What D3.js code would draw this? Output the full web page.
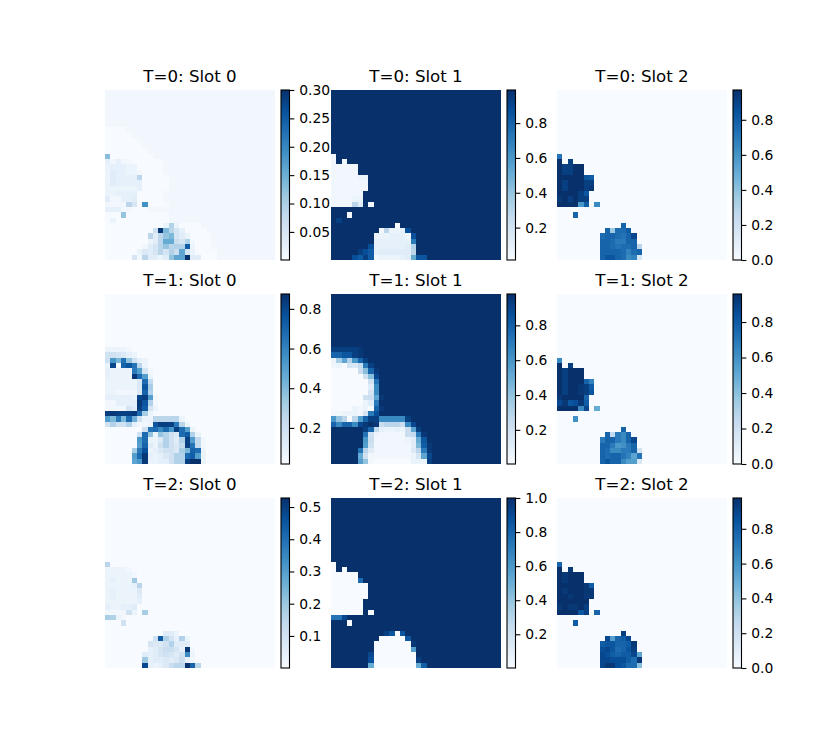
<!DOCTYPE html>
<html><head><meta charset="utf-8">
<script src="https://cdn.jsdelivr.net/npm/d3@7"></script>
<style>html,body{margin:0;background:#fff}svg{display:block}text{font-family:"DejaVu Sans",sans-serif;fill:#000}</style>
</head><body><svg id="c" width="825" height="750"></svg>
<script>
// Cell levels, one base-36 digit per cell (0 = vmin, z = vmax).
// Each row lists the cells from the left; cells past its end hold the panel's background level.
const t0s0Rows = ["","","","","","","","0000","00000","000000","0000000","00000000","f00000000",
"31311000000","23332200000","24332210000","243333a00000","243333300000","222222300000","22333300000","41133400000",
"1111a60m0000","33311000","000e00000000","020000000000","000000000002b20000","0000000007yga630000","00000000a4aeg6420000",
"0000000024aii86b1000","0000000146aeabbt2000","0000002546a6b8j620000","0000061a4424ejjz44000"];
const t0s1Rows = ["","","","","","","","","","","","","1","1z1","11111","11111","1111122","1111111","1111111","111111","111122",
"1111a4z1","","zzz1","zx","zzzzzzzzzzzz0","zzzzzzzzz1a223v","zzzzzzzz2223332v","zzzzzzzz3333333p","zzzzzzzv3333334b",
"zzzzzxvt3444444a","zzzzvtxt1222234iuu"];
const t0s2Rows = ["","","","","","","","","","","","","q","z0x","zxxzz","zxxzz","zzzzzut","zxzzzxx","zxzzzxy","zzzzxu","yzxzxx",
"zzzzlt0n","","000s","","000000000000s","000000000sdrrt","00000000rssrqsw","00000000ssrppss","00000000ssrqrrsa",
"00000000ssssrors","00000000suusrno6"];
const t1s0Rows = ["","","","","","","","","","","22221","776532","7lgqe732","2w0suqa2","32222pk61","32222yrk2","2222225r9","2222225uc","2211115sb",
"333332wxk1","113333yub1","111164xt62","xyxxxyrc2","kgpgrh722aaaaa2","7b77b3112uxxxpa2","00000007qrnrlxrk2","0000007re2eb75rtb2",
"000000lr225b74bxk91","000000ks427b759xq91","00000cpv235775cgsr2","00000kry32357bbrtk2","00000jly22337bbxzz2"];
const t1s1Rows = ["","","","","","","","","","","xxxxxy","ssuuxy","2cjblsx","120659px","000008fsy","0000007fw","00000007q","00000004n","00000006n",
"00000078jy","00000024p","00002120sy","1122216pv","lea0aksxxnnnnnx","snssnwyzy8aaa8nw","zzzzzzxs9322328jx","zzzzzzq721111189py",
"zzzzzzl811111124iu","zzzzzzk711111114gty","zzzzzqa411111115apy","zzzzzi71111111126jw","zzzzzke10000000222x"];
const t1s2Rows = ["","","","","","","","","","","","","n","z0x","zxzzz","zxzzz","zxzzzso","zxzzyxt","zxzzyxu","yzzzzs","wyuvyt","zzzznw0i","","000m","",
"000000000000s","000000000s9pns","00000000psspnsw","00000000ssplmps","00000000srnnpps7","00000000srssqojq","00000000sussnkk5"];
const t2s0Rows = ["","","","","","","","","","","","","a","22221","222221","23222d","222223a","2322225","2322224","2222223","322334",
"1111720c","cb21","0007","","00000000000442","0000000007tb63b2","000000006557b444","000000003468863y1","000000043467647n2","0000000d344545831","0000000w32358aazsa"];
const t2s1Rows = ["","","","","","","","","","","","","0","0z0","00000","00000r","0000000","0000000","0000000","000000","000000",
"000000z0","qqw","zzz0","","zzzzzzzzzzxu0u","zzzzzzzzz00000u","zzzzzzzz0000000y","zzzzzzzz0000000k","zzzzzzzw00000000z","zzzzzzzv00000000x","zzzzzzzi00000000it"];
const t2s2Rows = ["","","","","","","","","","","","","s","z0y","zyzzz","zyzzz","zzzzzyt","zyzzzyy","zzyzzyy","zzzzzz","yzyyzx","zzzzux0s","","000t","",
"000000000000x","000000000wkstw","00000000tuussty","00000000vwursux","00000000wvtsttwj","00000000wwvvvtry","00000000wyyvurrf"];

const titles = ["T=0: Slot 0","T=0: Slot 1","T=0: Slot 2","T=1: Slot 0","T=1: Slot 1","T=1: Slot 2","T=2: Slot 0","T=2: Slot 1","T=2: Slot 2"];
const rowSets = [t0s0Rows,t0s1Rows,t0s2Rows,t1s0Rows,t1s1Rows,t1s2Rows,t2s0Rows,t2s1Rows,t2s2Rows];
const backgroundLevels = ["1","z","0","0","z","0","0","z","0"];
const vMins = [0.0005,0.014,0,0.018,0.004,0,0.0005,0.002,0];
const vMaxs = [0.30,0.99,0.97,0.875,0.98,0.958,0.528,1.0,0.977];
const tickLists = [[0.05,0.10,0.15,0.20,0.25,0.30],[0.2,0.4,0.6,0.8],[0,0.2,0.4,0.6,0.8],[0.2,0.4,0.6,0.8],[0.2,0.4,0.6,0.8],[0,0.2,0.4,0.6,0.8],[0.1,0.2,0.3,0.4,0.5],[0.2,0.4,0.6,0.8,1.0],[0,0.2,0.4,0.6,0.8]];
const tickFormats = [".2f",".1f",".1f",".1f",".1f",".1f",".1f",".1f",".1f"];
const blues = ["#f7fbff","#deebf7","#c6dbef","#9ecae1","#6baed6","#4292c6","#2171b5","#08519c","#08306b"];

const GRID = 32, SIZE = 170;
const colLefts = [105,331,557], rowTops = [90,294,498];
const cbGap = 6, cbWidth = 8.5;
const svg = d3.select("#c");
const defs = svg.append("defs");
const grad = defs.append("linearGradient").attr("id","blues").attr("x1",0).attr("x2",0).attr("y1",1).attr("y2",0);
blues.forEach((c,i)=>grad.append("stop").attr("offset",i/(blues.length-1)).attr("stop-color",c));

const idx = d3.range(GRID);
rowSets.forEach((rows,p)=>{
  const left = colLefts[p%3], top = rowTops[Math.floor(p/3)];
  const vmin = vMins[p], vmax = vMaxs[p];
  const x = d3.scaleBand().domain(idx).range([left,left+SIZE]);
  const y = d3.scaleBand().domain(idx).range([top,top+SIZE]);
  const color = d3.scaleLinear().domain(blues.map((_,i)=>vmin+(vmax-vmin)*i/(blues.length-1))).range(blues).clamp(true);
  const cells = [];
  rows.forEach((s,r)=>{
    const full = s.padEnd(GRID,backgroundLevels[p]);
    idx.forEach(c=>cells.push({r,c,v:vmin+(vmax-vmin)*parseInt(full[c],36)/35}));
  });
  const g = svg.append("g");
  g.selectAll("rect").data(cells).join("rect")
    .attr("x",d=>x(d.c)).attr("y",d=>y(d.r))
    .attr("width",x.bandwidth()+0.3).attr("height",y.bandwidth()+0.3)
    .attr("fill",d=>color(d.v)).attr("shape-rendering","crispEdges");
  svg.append("text").attr("x",left+SIZE/2).attr("y",top-8.3).attr("text-anchor","middle")
    .attr("font-size",16.67).text(titles[p]);
  const cbX = left+SIZE+cbGap;
  svg.append("rect").attr("x",cbX).attr("y",top).attr("width",cbWidth).attr("height",SIZE).attr("fill","url(#blues)");
  const cy = d3.scaleLinear().domain([vmin,vmax]).range([top+SIZE,top]);
  const ax = svg.append("g").attr("transform",`translate(${cbX+cbWidth},0)`)
    .call(d3.axisRight(cy).tickValues(tickLists[p]).tickSize(4.86).tickPadding(4.86).tickFormat(d3.format(tickFormats[p])));
  ax.select(".domain").remove();
  ax.selectAll("line").attr("stroke","#000").attr("stroke-width",1.1);
  ax.selectAll("text").attr("font-size",13.89).attr("font-family","DejaVu Sans");
  svg.append("rect").attr("x",cbX).attr("y",top).attr("width",cbWidth).attr("height",SIZE).attr("fill","none").attr("stroke","#000").attr("stroke-width",1.1);
});
</script></body></html>
